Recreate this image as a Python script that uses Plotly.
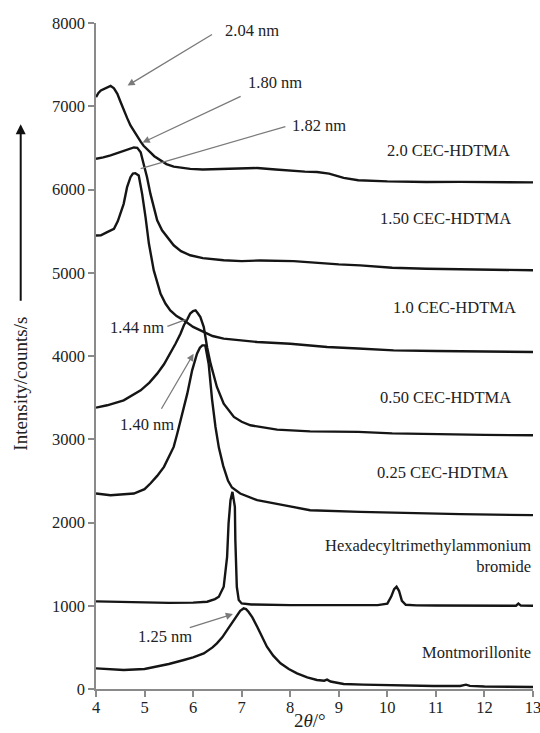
import plotly.graph_objects as go

# XRD patterns: 2theta (degrees) and intensity (counts/s), stacked by sample
tth_20 = [4.00, 4.05, 4.10, 4.20, 4.30, 4.37, 4.44, 4.50, 4.57, 4.64, 4.71, 4.78, 4.85, 4.92, 4.98,
          5.05, 5.12, 5.20, 5.33, 5.45, 5.60, 5.80, 5.94, 6.20, 6.63, 7.00, 7.32, 7.70, 8.00, 8.30,
          8.55, 8.80, 9.10, 9.40, 10.0, 10.8, 11.5, 12.2, 13.0]
int_20 = [7110, 7160, 7190, 7215, 7245, 7215, 7150, 7060, 6950, 6860, 6770, 6700, 6630, 6575, 6525,
          6480, 6445, 6400, 6345, 6305, 6275, 6255, 6248, 6240, 6245, 6255, 6258, 6240, 6225, 6215,
          6210, 6190, 6140, 6112, 6098, 6090, 6092, 6085, 6085]

tth_150 = [4.00, 4.15, 4.30, 4.45, 4.57, 4.68, 4.78, 4.85, 4.92, 4.98, 5.05, 5.12, 5.19, 5.26, 5.36,
           5.45, 5.53, 5.60, 5.75, 5.94, 6.20, 6.63, 7.00, 7.38, 8.07, 8.50, 9.00, 9.44, 10.1, 10.8,
           11.6, 12.3, 13.0]
int_150 = [6370, 6385, 6410, 6440, 6465, 6490, 6505, 6500, 6448, 6310, 6150, 5950, 5790, 5630, 5510,
           5440, 5390, 5330, 5260, 5210, 5175, 5150, 5140, 5148, 5140, 5120, 5100, 5088, 5060, 5048,
           5040, 5032, 5030]

tth_100 = [4.00, 4.10, 4.23, 4.37, 4.45, 4.50, 4.57, 4.64, 4.71, 4.76, 4.81, 4.88, 4.95, 5.02, 5.09,
           5.19, 5.33, 5.43, 5.53, 5.66, 5.81, 6.00, 6.22, 6.40, 6.63, 7.00, 7.32, 8.00, 8.76, 9.40,
           10.13, 11.0, 12.0, 13.0]
int_100 = [5448, 5450, 5488, 5528, 5620, 5708, 5828, 6028, 6148, 6190, 6196, 6168, 5948, 5668, 5348,
           5028, 4748, 4630, 4548, 4480, 4428, 4350, 4288, 4240, 4208, 4185, 4168, 4148, 4108, 4090,
           4068, 4060, 4052, 4048]

tth_050 = [4.00, 4.23, 4.57, 4.92, 5.10, 5.26, 5.40, 5.53, 5.64, 5.74, 5.81, 5.88, 5.94, 6.00, 6.05,
           6.10, 6.15, 6.22, 6.29, 6.36, 6.49, 6.63, 6.84, 7.00, 7.18, 7.38, 7.73, 8.41, 9.40, 10.1,
           11.0, 12.0, 13.0]
int_050 = [3380, 3408, 3468, 3588, 3680, 3788, 3900, 4028, 4150, 4268, 4370, 4440, 4510, 4540, 4548,
           4510, 4468, 4348, 4100, 3908, 3628, 3428, 3268, 3210, 3168, 3148, 3116, 3095, 3088, 3070,
           3060, 3052, 3048]

tth_025 = [4.00, 4.30, 4.78, 5.00, 5.12, 5.26, 5.40, 5.50, 5.60, 5.67, 5.74, 5.81, 5.88, 5.98, 6.08,
           6.14, 6.19, 6.25, 6.32, 6.39, 6.46, 6.53, 6.62, 6.72, 6.80, 6.97, 7.32, 7.86, 8.41, 9.44,
           10.5, 11.5, 13.0]
int_025 = [2348, 2328, 2348, 2400, 2468, 2560, 2668, 2780, 2908, 3060, 3228, 3390, 3548, 3828, 4028,
           4100, 4128, 4128, 3908, 3480, 3150, 2900, 2680, 2500, 2420, 2348, 2268, 2208, 2148, 2128,
           2110, 2100, 2088]

tth_hdtma = [4.00, 4.50, 5.00, 5.50, 6.00, 6.29, 6.45, 6.53, 6.63, 6.66, 6.70, 6.73, 6.77, 6.81, 6.86,
             6.87, 6.88, 6.90, 6.94, 7.00, 7.20, 7.60, 8.00, 9.00, 9.80, 10.00, 10.08, 10.14, 10.19,
             10.24, 10.30, 10.38, 10.60, 11.00, 12.00, 12.65, 12.70, 12.75, 13.00]
int_hdtma = [1052, 1045, 1040, 1035, 1038, 1048, 1080, 1108, 1228, 1388, 1588, 1988, 2268, 2368, 2188,
             1788, 1468, 1228, 1068, 1028, 1015, 1010, 1008, 1008, 1008, 1025, 1110, 1200, 1228,
             1180, 1060, 1012, 1005, 1003, 1002, 1000, 1025, 1002, 1000]

tth_mont = [4.00, 4.30, 4.57, 5.00, 5.25, 5.50, 5.81, 6.00, 6.22, 6.40, 6.49, 6.60, 6.70, 6.80, 6.90,
            6.97, 7.04, 7.09, 7.14, 7.22, 7.32, 7.42, 7.52, 7.65, 7.80, 7.97, 8.14, 8.35, 8.55, 8.70,
            8.76, 8.83, 9.10, 9.50, 10.0, 10.95, 11.5, 11.62, 11.70, 12.0, 13.0]
int_mont = [248, 235, 228, 240, 268, 300, 348, 380, 428, 500, 548, 620, 708, 800, 888,
            940, 968, 960, 928, 860, 748, 620, 508, 400, 308, 240, 188, 140, 108, 100,
            112, 90, 60, 52, 44, 36, 36, 52, 38, 30, 24]

x_ticks = [4, 5, 6, 7, 8, 9, 10, 11, 12, 13]
y_ticks = [0, 1000, 2000, 3000, 4000, 5000, 6000, 7000, 8000]

series = [
    ("2.0 CEC-HDTMA", tth_20, int_20),
    ("1.50 CEC-HDTMA", tth_150, int_150),
    ("1.0 CEC-HDTMA", tth_100, int_100),
    ("0.50 CEC-HDTMA", tth_050, int_050),
    ("0.25 CEC-HDTMA", tth_025, int_025),
    ("HDTMA bromide", tth_hdtma, int_hdtma),
    ("Montmorillonite", tth_mont, int_mont),
]

SERIF = "Liberation Serif, Times New Roman, serif"
TXT = "#222222"
AXIS = "#8a8a8a"
POINTER = "#7a7a7a"

fig = go.Figure()
for name, x, y in series:
    fig.add_trace(go.Scatter(
        x=x, y=y, mode="lines", name=name,
        line=dict(color="#151515", width=2.4),
        showlegend=False, hoverinfo="skip",
    ))

axis_common = dict(
    showline=True, linecolor=AXIS, linewidth=1.5,
    ticks="outside", ticklen=6, tickcolor=AXIS, tickwidth=1.5,
    showgrid=False, zeroline=False, ticklabeloverflow="allow", automargin=False,
    tickfont=dict(family=SERIF, size=16.5, color=TXT),
)

fig.update_layout(
    width=540, height=733,
    margin=dict(l=96, r=7, t=23, b=44),
    paper_bgcolor="white", plot_bgcolor="white",
    xaxis=dict(range=[4, 13], tickvals=x_ticks, ticklabelstandoff=-4, **axis_common),
    yaxis=dict(range=[0, 8000], tickvals=y_ticks, **axis_common),
    showlegend=False,
)

# sample labels, right-aligned above each pattern
labels = [
    ("2.0 CEC-HDTMA", 12.57, 6468),
    ("1.50 CEC-HDTMA", 12.59, 5652),
    ("1.0 CEC-HDTMA", 12.69, 4584),
    ("0.50 CEC-HDTMA", 12.59, 3504),
    ("0.25 CEC-HDTMA", 12.53, 2604),
    ("Hexadecyltrimethylammonium<br>bromide", 13.0, 1596),
    ("Montmorillonite", 13.0, 444),
]
for text, x, y in labels:
    fig.add_annotation(x=x, y=y, text=text, showarrow=False, xanchor="right", yanchor="middle",
                       align="right", font=dict(family=SERIF, size=16.5, color=TXT))

# d-spacing labels
dlabels = [
    ("2.04 nm", 6.62, 7908, "left"),
    ("1.80 nm", 7.08, 7284, "left"),
    ("1.82 nm", 8.00, 6768, "left"),
    ("1.44 nm", 5.45, 4344, "right"),
    ("1.40 nm", 5.04, 3180, "center"),
    ("1.25 nm", 5.43, 636, "center"),
]
for text, x, y, anchor in dlabels:
    fig.add_annotation(x=x, y=y, text=text, showarrow=False, xanchor=anchor, yanchor="middle",
                       font=dict(family=SERIF, size=16.5, color=TXT))

# arrows pointing to the basal reflections (tail -> head)
arrows = [
    ((6.42, 7872), (4.65, 7248)),
    ((7.01, 7128), (4.96, 6564)),
    ((5.33, 3348), (6.01, 4028)),
    ((5.90, 732), (6.82, 900)),
]
for (tx, ty), (hx, hy) in arrows:
    fig.add_annotation(x=hx, y=hy, ax=tx, ay=ty, axref="x", ayref="y", text="",
                       showarrow=True, arrowhead=2, arrowsize=1.1, arrowwidth=1.3,
                       arrowcolor=POINTER)

# plain leader lines
leaders = [
    ((7.90, 6756), (4.92, 6252)),
    ((5.47, 4356), (5.86, 4440)),
]
for (x0, y0), (x1, y1) in leaders:
    fig.add_shape(type="line", x0=x0, y0=y0, x1=x1, y1=y1, xref="x", yref="y",
                  line=dict(color=POINTER, width=1.3))

# axis titles
fig.add_annotation(x=-0.1723, y=0.458, xref="paper", yref="paper", text="Intensity/counts/s",
                   textangle=-90, showarrow=False, xanchor="center", yanchor="middle",
                   font=dict(family=SERIF, size=19, color=TXT))
fig.add_annotation(x=-0.1723, y=0.848, xref="paper", yref="paper", text="",
                   showarrow=True, ax=0, ay=178, arrowhead=2, arrowsize=1, arrowwidth=2,
                   arrowcolor="#111111")
fig.add_annotation(x=0.49, y=-0.047, xref="paper", yref="paper", text="2<i>θ</i>/°",
                   showarrow=False, xanchor="center", yanchor="middle",
                   font=dict(family=SERIF, size=19, color=TXT))

fig.write_html("out.html")
